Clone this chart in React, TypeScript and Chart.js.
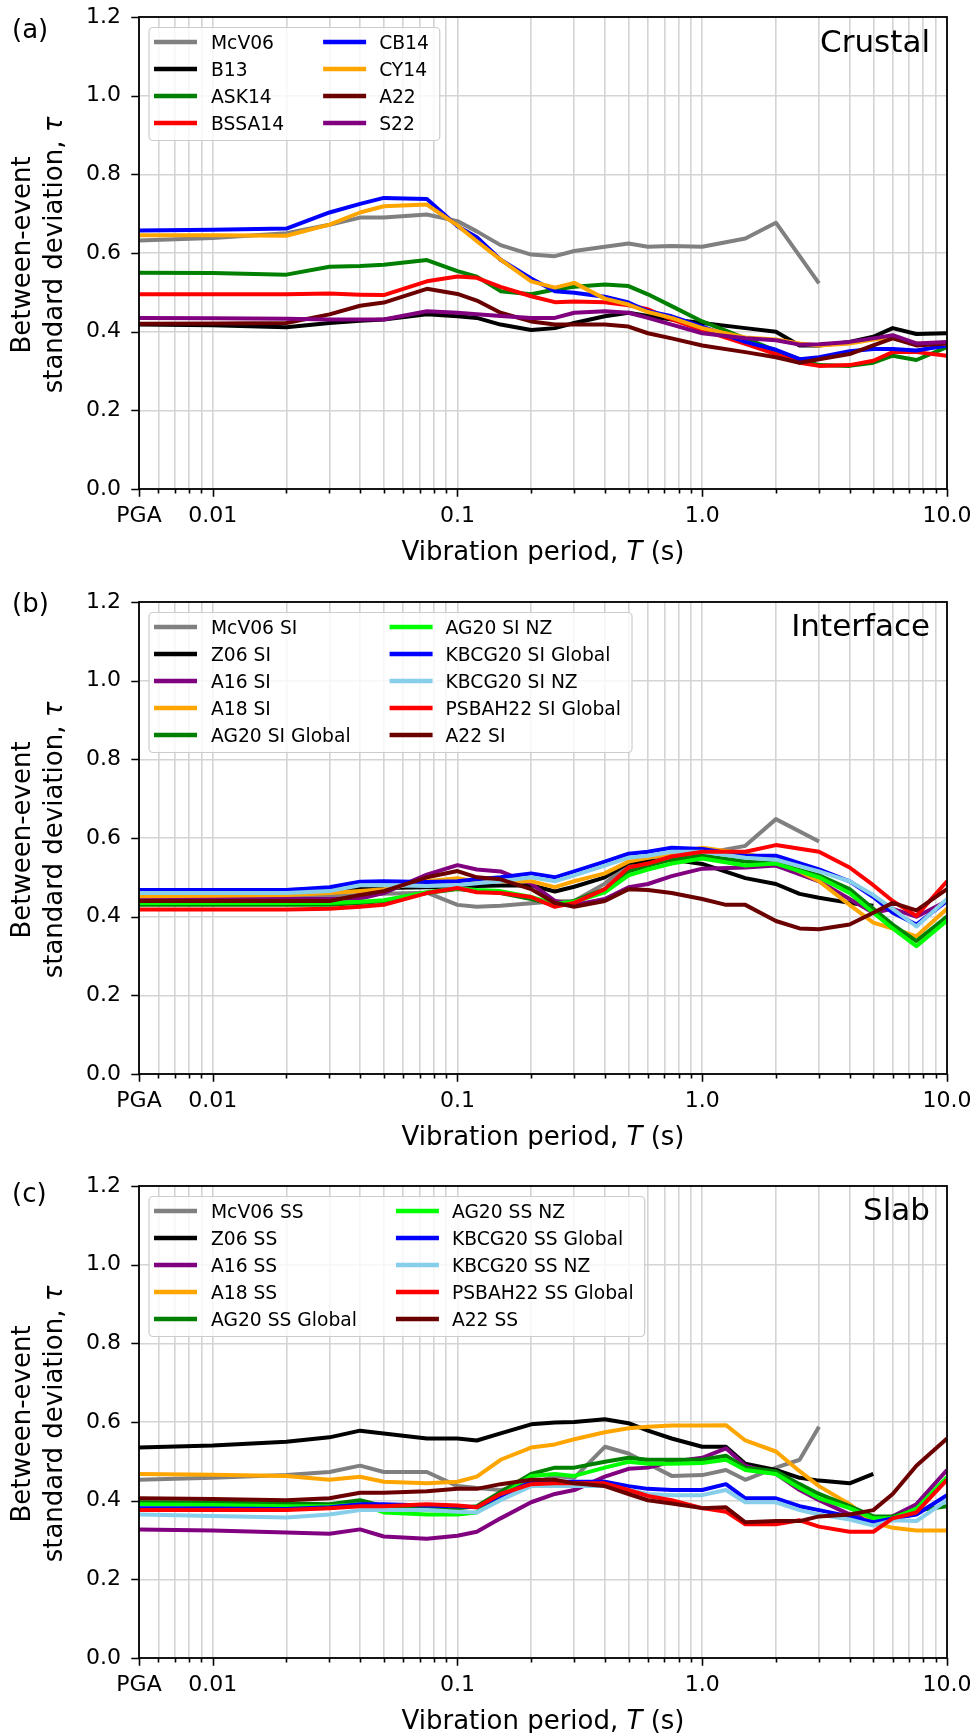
import React, { useEffect, useRef } from "react";
import { Chart, registerables } from "chart.js";

Chart.register(...registerables);

const FONT = "'DejaVu Sans', sans-serif";

// ---------------- data ----------------
const PERIODS = [0.005, 0.01, 0.02, 0.03, 0.04, 0.05, 0.075, 0.1, 0.12, 0.15, 0.2, 0.25, 0.3, 0.4, 0.5, 0.6, 0.75, 1.0, 1.25, 1.5, 2.0, 2.5, 3.0, 4.0, 5.0, 6.0, 7.5, 10.0];

const X_TICK_VALUES = [0.005, 0.006, 0.007, 0.008, 0.009, 0.01, 0.02, 0.03, 0.04, 0.05, 0.06, 0.07, 0.08, 0.09, 0.1, 0.2, 0.3, 0.4, 0.5, 0.6, 0.7, 0.8, 0.9, 1, 2, 3, 4, 5, 6, 7, 8, 9, 10];
const X_TICK_LABELS = ["PGA", "", "", "", "", "0.01", "", "", "", "", "", "", "", "", "0.1", "", "", "", "", "", "", "", "", "1.0", "", "", "", "", "", "", "", "", "10.0"];
const Y_TICK_VALUES = [0, 0.2, 0.4, 0.6, 0.8, 1.0, 1.2];

// Panel (a) Crustal
const CR_McV06 = [0.632, 0.638, 0.650, 0.672, 0.690, 0.690, 0.698, 0.681, 0.655, 0.620, 0.596, 0.592, 0.605, 0.616, 0.624, 0.616, 0.618, 0.616, null, 0.637, 0.677, null, 0.523, null, null, null, null, null];
const CR_B13 = [0.418, 0.416, 0.411, 0.422, 0.428, 0.431, 0.444, 0.439, 0.435, 0.418, 0.404, 0.409, 0.422, 0.439, 0.448, 0.440, 0.431, 0.422, null, 0.409, 0.400, 0.365, 0.365, 0.374, 0.387, 0.409, 0.394, 0.396];
const CR_ASK14 = [0.550, 0.549, 0.545, 0.565, 0.567, 0.570, 0.582, 0.554, 0.540, 0.503, 0.495, 0.507, 0.514, 0.520, 0.516, 0.495, 0.465, 0.426, null, 0.383, 0.352, 0.330, 0.315, 0.313, 0.321, 0.339, 0.328, 0.361];
const CR_BSSA14 = [0.495, 0.495, 0.495, 0.497, 0.494, 0.493, 0.528, 0.540, 0.537, 0.514, 0.490, 0.475, 0.477, 0.475, 0.467, 0.457, 0.431, 0.404, null, 0.369, 0.343, 0.321, 0.313, 0.315, 0.326, 0.348, 0.348, 0.339];
const CR_CB14 = [0.657, 0.659, 0.662, 0.703, 0.725, 0.740, 0.737, 0.668, 0.640, 0.583, 0.535, 0.503, 0.499, 0.489, 0.474, 0.452, 0.439, 0.413, null, 0.374, 0.354, 0.330, 0.335, 0.350, 0.356, 0.356, 0.352, 0.365];
const CR_CY14 = [0.645, 0.645, 0.644, 0.672, 0.703, 0.719, 0.723, 0.670, 0.630, 0.583, 0.528, 0.512, 0.524, 0.484, 0.469, 0.450, 0.435, 0.409, null, 0.385, 0.380, 0.370, 0.365, 0.370, 0.380, 0.385, 0.370, 0.370];
const CR_A22 = [0.420, 0.421, 0.422, 0.444, 0.466, 0.474, 0.509, 0.496, 0.479, 0.448, 0.426, 0.418, 0.418, 0.418, 0.413, 0.396, 0.383, 0.365, null, 0.348, 0.335, 0.321, 0.330, 0.343, 0.365, 0.383, 0.365, 0.370];
const CR_S22 = [0.435, 0.434, 0.433, 0.431, 0.431, 0.431, 0.452, 0.448, 0.444, 0.440, 0.435, 0.435, 0.448, 0.452, 0.448, 0.435, 0.418, 0.396, null, 0.383, 0.378, 0.367, 0.368, 0.374, 0.383, 0.391, 0.370, 0.374];

// Panel (b) Interface
const SI_McV06 = [0.448, 0.448, 0.449, 0.452, 0.455, 0.458, 0.461, 0.430, 0.425, 0.428, 0.434, 0.439, 0.440, 0.484, 0.534, 0.545, 0.550, 0.560, null, 0.580, 0.648, null, 0.591, null, null, null, null, null];
const SI_Z06 = [0.468, 0.468, 0.468, 0.470, 0.472, 0.473, 0.475, 0.475, 0.478, 0.479, 0.480, 0.464, 0.476, 0.500, 0.537, 0.540, 0.545, 0.534, null, 0.498, 0.483, 0.458, 0.448, 0.435, 0.428, null, null, null];
const SI_A16 = [0.445, 0.445, 0.445, 0.445, 0.446, 0.460, 0.507, 0.531, 0.520, 0.515, 0.484, 0.440, 0.430, 0.445, 0.475, 0.483, 0.503, 0.522, null, 0.525, 0.530, null, 0.490, 0.445, 0.410, 0.420, 0.400, 0.440];
const SI_A18 = [0.452, 0.453, 0.455, 0.460, 0.465, 0.470, 0.490, 0.498, 0.490, 0.490, 0.490, 0.475, 0.490, 0.510, 0.540, 0.550, 0.560, 0.575, null, 0.560, 0.545, null, 0.490, 0.430, 0.385, 0.370, 0.350, 0.420];
const SI_AG20G = [0.430, 0.430, 0.430, 0.430, 0.435, 0.440, 0.460, 0.470, 0.465, 0.460, 0.445, 0.430, 0.440, 0.470, 0.515, 0.530, 0.545, 0.555, null, 0.540, 0.535, null, 0.505, 0.470, 0.420, 0.380, 0.338, 0.400];
const SI_AG20NZ = [0.435, 0.435, 0.435, 0.435, 0.438, 0.442, 0.462, 0.472, 0.468, 0.465, 0.450, 0.432, 0.438, 0.462, 0.505, 0.520, 0.535, 0.548, null, 0.530, 0.535, null, 0.500, 0.460, 0.410, 0.370, 0.325, 0.390];
const SI_KBCGG = [0.468, 0.468, 0.468, 0.475, 0.489, 0.490, 0.488, 0.490, 0.495, 0.500, 0.510, 0.500, 0.515, 0.540, 0.560, 0.565, 0.575, 0.572, null, 0.555, 0.555, null, 0.520, 0.490, 0.450, 0.410, 0.380, 0.440];
const SI_KBCGNZ = [0.460, 0.460, 0.460, 0.465, 0.480, 0.480, 0.478, 0.480, 0.485, 0.490, 0.500, 0.490, 0.505, 0.530, 0.550, 0.555, 0.565, 0.565, null, 0.550, 0.545, null, 0.515, 0.490, 0.455, 0.420, 0.375, 0.445];
const SI_PSBAH = [0.418, 0.418, 0.418, 0.420, 0.425, 0.430, 0.460, 0.473, 0.462, 0.460, 0.450, 0.425, 0.435, 0.470, 0.525, 0.535, 0.553, 0.565, null, 0.565, 0.582, null, 0.565, 0.525, 0.480, 0.440, 0.402, 0.490];
const SI_A22 = [0.440, 0.440, 0.440, 0.440, 0.455, 0.465, 0.500, 0.516, 0.500, 0.495, 0.470, 0.435, 0.425, 0.440, 0.470, 0.468, 0.460, 0.445, 0.430, 0.430, 0.389, 0.370, 0.368, 0.380, 0.410, 0.435, 0.416, 0.470];

// Panel (c) Slab
const SS_McV06 = [0.453, 0.458, 0.465, 0.473, 0.489, 0.473, 0.473, 0.437, 0.432, 0.427, 0.442, 0.463, 0.458, 0.537, 0.520, 0.494, 0.463, 0.465, 0.478, 0.453, 0.484, 0.504, 0.588, null, null, null, null, null];
const SS_Z06 = [0.535, 0.540, 0.550, 0.561, 0.578, 0.571, 0.558, 0.558, 0.553, 0.571, 0.594, 0.599, 0.600, 0.607, 0.597, 0.578, 0.558, 0.537, 0.537, 0.494, 0.478, 0.458, 0.451, 0.444, 0.468, null, null, null];
const SS_A16 = [0.327, 0.324, 0.319, 0.316, 0.327, 0.309, 0.303, 0.311, 0.321, 0.355, 0.396, 0.417, 0.427, 0.461, 0.481, 0.484, 0.499, 0.509, 0.533, 0.489, 0.468, 0.427, 0.401, 0.365, 0.350, 0.360, 0.391, 0.478];
const SS_A18 = [0.468, 0.466, 0.463, 0.453, 0.461, 0.448, 0.444, 0.448, 0.461, 0.504, 0.535, 0.543, 0.556, 0.574, 0.584, 0.588, 0.591, 0.591, 0.592, 0.553, 0.525, 0.475, 0.437, 0.391, 0.345, 0.331, 0.324, 0.324];
const SS_AG20G = [0.396, 0.395, 0.393, 0.391, 0.401, 0.386, 0.383, 0.381, 0.386, 0.422, 0.468, 0.484, 0.484, 0.499, 0.509, 0.504, 0.504, 0.504, 0.514, 0.484, 0.475, 0.442, 0.417, 0.386, 0.360, 0.360, 0.375, 0.386];
const SS_AG20NZ = [0.391, 0.389, 0.386, 0.386, 0.391, 0.370, 0.365, 0.365, 0.370, 0.412, 0.463, 0.468, 0.463, 0.484, 0.499, 0.494, 0.494, 0.496, 0.504, 0.478, 0.468, 0.432, 0.406, 0.381, 0.355, 0.355, 0.380, 0.460];
const SS_KBCGG = [0.381, 0.380, 0.379, 0.383, 0.391, 0.391, 0.388, 0.386, 0.383, 0.412, 0.448, 0.448, 0.448, 0.448, 0.437, 0.430, 0.427, 0.427, 0.442, 0.406, 0.406, 0.386, 0.376, 0.360, 0.345, 0.355, 0.365, 0.414];
const SS_KBCGNZ = [0.365, 0.361, 0.357, 0.365, 0.376, 0.376, 0.376, 0.372, 0.370, 0.401, 0.437, 0.437, 0.437, 0.437, 0.427, 0.417, 0.414, 0.414, 0.427, 0.396, 0.396, 0.376, 0.365, 0.352, 0.337, 0.350, 0.348, 0.401];
const SS_PSBAH = [0.376, 0.376, 0.376, 0.381, 0.386, 0.386, 0.391, 0.388, 0.383, 0.417, 0.442, 0.444, 0.444, 0.444, 0.427, 0.412, 0.401, 0.381, 0.372, 0.340, 0.340, 0.350, 0.334, 0.321, 0.321, 0.355, 0.370, 0.453];
const SS_A22 = [0.406, 0.404, 0.401, 0.406, 0.420, 0.420, 0.424, 0.430, 0.430, 0.442, 0.453, 0.453, 0.444, 0.437, 0.417, 0.401, 0.393, 0.381, 0.383, 0.345, 0.348, 0.348, 0.360, 0.365, 0.376, 0.417, 0.489, 0.558];

const GRAY = "#808080", BLACK = "#000000", GREEN = "#008000", RED = "#ff0000", BLUE = "#0000ff",
  ORANGE = "#ffa500", MAROON = "#6b0000", PURPLE = "#800080", LIME = "#00ff00", SKY = "#87ceeb";

type Series = { label: string; color: string; values: (number | null)[] };
type Panel = { letter: string; region: string; letterDy: number; regionDy: number; top: number; series: Series[] };

const PANELS: Panel[] = [
  {
    letter: "(a)", region: "Crustal", letterDy: 21, regionDy: 35, top: 0,
    series: [
      { label: "McV06", color: GRAY, values: CR_McV06 },
      { label: "B13", color: BLACK, values: CR_B13 },
      { label: "ASK14", color: GREEN, values: CR_ASK14 },
      { label: "BSSA14", color: RED, values: CR_BSSA14 },
      { label: "CB14", color: BLUE, values: CR_CB14 },
      { label: "CY14", color: ORANGE, values: CR_CY14 },
      { label: "A22", color: MAROON, values: CR_A22 },
      { label: "S22", color: PURPLE, values: CR_S22 },
    ],
  },
  {
    letter: "(b)", region: "Interface", letterDy: 10, regionDy: 34, top: 585,
    series: [
      { label: "McV06 SI", color: GRAY, values: SI_McV06 },
      { label: "Z06 SI", color: BLACK, values: SI_Z06 },
      { label: "A16 SI", color: PURPLE, values: SI_A16 },
      { label: "A18 SI", color: ORANGE, values: SI_A18 },
      { label: "AG20 SI Global", color: GREEN, values: SI_AG20G },
      { label: "AG20 SI NZ", color: LIME, values: SI_AG20NZ },
      { label: "KBCG20 SI Global", color: BLUE, values: SI_KBCGG },
      { label: "KBCG20 SI NZ", color: SKY, values: SI_KBCGNZ },
      { label: "PSBAH22 SI Global", color: RED, values: SI_PSBAH },
      { label: "A22 SI", color: MAROON, values: SI_A22 },
    ],
  },
  {
    letter: "(c)", region: "Slab", letterDy: 16, regionDy: 34, top: 1169,
    series: [
      { label: "McV06 SS", color: GRAY, values: SS_McV06 },
      { label: "Z06 SS", color: BLACK, values: SS_Z06 },
      { label: "A16 SS", color: PURPLE, values: SS_A16 },
      { label: "A18 SS", color: ORANGE, values: SS_A18 },
      { label: "AG20 SS Global", color: GREEN, values: SS_AG20G },
      { label: "AG20 SS NZ", color: LIME, values: SS_AG20NZ },
      { label: "KBCG20 SS Global", color: BLUE, values: SS_KBCGG },
      { label: "KBCG20 SS NZ", color: SKY, values: SS_KBCGNZ },
      { label: "PSBAH22 SS Global", color: RED, values: SS_PSBAH },
      { label: "A22 SS", color: MAROON, values: SS_A22 },
    ],
  },
];

const CANVAS_W = 976;
const CANVAS_H = 564;
const PAD_TOP = 17;
const PLOT_H = 472;
const Y_AXIS_W = 139;
const PAD_RIGHT = 29;

function drawMixed(ctx: CanvasRenderingContext2D, parts: { t: string; italic?: boolean }[], size: number, cx: number, y: number) {
  const fonts = parts.map((p) => `${p.italic ? "oblique " : ""}${size}px ${FONT}`);
  const widths = parts.map((p, i) => { ctx.font = fonts[i]; return ctx.measureText(p.t).width; });
  const total = widths.reduce((s, w) => s + w, 0);
  let x = cx - total / 2;
  ctx.textAlign = "left";
  ctx.textBaseline = "alphabetic";
  parts.forEach((p, i) => { ctx.font = fonts[i]; ctx.fillText(p.t, x, y); x += widths[i]; });
}

function decoPlugin(panel: Panel) {
  return {
    id: "deco",
    afterDraw(chart: any) {
      const ctx: CanvasRenderingContext2D = chart.ctx;
      const a = chart.chartArea;
      const xs = chart.scales.x;
      const ys = chart.scales.y;
      ctx.save();
      ctx.fillStyle = "#000";
      ctx.strokeStyle = "#000";
      // tick marks
      ctx.lineWidth = 1.6;
      ctx.beginPath();
      X_TICK_VALUES.forEach((v, i) => {
        const px = Math.round(xs.getPixelForValue(v)) + 0.5;
        const len = X_TICK_LABELS[i] ? 7.7 : 4.4;
        ctx.moveTo(px, a.bottom);
        ctx.lineTo(px, a.bottom + len);
      });
      Y_TICK_VALUES.forEach((v) => {
        const py = Math.round(ys.getPixelForValue(v)) + 0.5;
        ctx.moveTo(a.left - 7.7, py);
        ctx.lineTo(a.left, py);
      });
      ctx.stroke();
      // frame
      ctx.lineWidth = 1.8;
      ctx.strokeRect(a.left, a.top, a.right - a.left, a.bottom - a.top);

      // legend
      const n = panel.series.length;
      const nrows = Math.ceil(n / 2);
      const col1 = panel.series.slice(0, nrows);
      const col2 = panel.series.slice(nrows);
      ctx.font = `18.7px ${FONT}`;
      const w1 = Math.max(...col1.map((s) => ctx.measureText(s.label).width));
      const w2 = Math.max(...col2.map((s) => ctx.measureText(s.label).width));
      const bx = a.left + 10;
      const by = a.top + 10.5;
      const t1x = bx + 62;
      const h2x = t1x + w1 + 39;
      const t2x = h2x + 56;
      const bw = t2x + w2 + 11 - bx;
      const bh = 14.5 + (nrows - 1) * 27 + 17.5;
      ctx.beginPath();
      ctx.roundRect(bx, by, bw, bh, 4);
      ctx.fillStyle = "rgba(255,255,255,0.8)";
      ctx.fill();
      ctx.strokeStyle = "#cccccc";
      ctx.lineWidth = 1.2;
      ctx.stroke();
      const drawItem = (s: Series, hx: number, tx: number, row: number) => {
        const ry = by + 14.5 + row * 27;
        ctx.strokeStyle = s.color;
        ctx.lineWidth = 4.5;
        ctx.lineCap = "butt";
        ctx.beginPath();
        ctx.moveTo(hx, ry);
        ctx.lineTo(hx + 43, ry);
        ctx.stroke();
        ctx.fillStyle = "#000";
        ctx.textAlign = "left";
        ctx.textBaseline = "alphabetic";
        ctx.fillText(s.label, tx, ry + 6.8);
      };
      col1.forEach((s, i) => drawItem(s, bx + 5, t1x, i));
      col2.forEach((s, i) => drawItem(s, h2x, t2x, i));

      // region title
      ctx.fillStyle = "#000";
      ctx.font = `31px ${FONT}`;
      ctx.textAlign = "right";
      ctx.textBaseline = "alphabetic";
      ctx.fillText(panel.region, a.right - 17, a.top + panel.regionDy);

      // panel letter
      ctx.font = `26px ${FONT}`;
      ctx.textAlign = "left";
      ctx.fillText(panel.letter, 12, a.top + panel.letterDy);

      // x title
      drawMixed(ctx, [{ t: "Vibration period, " }, { t: "T", italic: true }, { t: " (s)" }], 26, (a.left + a.right) / 2, a.bottom + 71);

      // y title
      const cy = (a.top + a.bottom) / 2 + 2;
      ctx.save();
      ctx.translate(0, cy);
      ctx.rotate(-Math.PI / 2);
      drawMixed(ctx, [{ t: "Between-event" }], 26, 0, 30);
      drawMixed(ctx, [{ t: "standard deviation, " }, { t: "τ", italic: true }], 26, 0, 62);
      ctx.restore();

      ctx.restore();
    },
  };
}

function PanelChart({ panel }: { panel: Panel }) {
  const ref = useRef<HTMLCanvasElement | null>(null);
  useEffect(() => {
    if (!ref.current) return;
    const n = panel.series.length;
    const chart = new Chart(ref.current, {
      type: "line",
      data: {
        datasets: panel.series.map((s, i) => ({
          label: s.label,
          data: PERIODS.map((p, j) => ({ x: p, y: s.values[j] })),
          borderColor: s.color,
          backgroundColor: s.color,
          borderWidth: 4,
          pointRadius: 0,
          pointHoverRadius: 0,
          tension: 0,
          spanGaps: true,
          fill: false,
          borderJoinStyle: "round",
          borderCapStyle: "butt",
          order: n - 1 - i,
        })),
      },
      options: {
        animation: false,
        responsive: false,
        devicePixelRatio: 1,
        events: [],
        layout: { padding: { top: PAD_TOP, right: PAD_RIGHT, left: 0, bottom: 0 } },
        plugins: { legend: { display: false }, tooltip: { enabled: false }, title: { display: false } },
        scales: {
          x: {
            type: "logarithmic",
            min: 0.005,
            max: 10,
            border: { display: false },
            grid: { color: "#d4d4d4", lineWidth: 1.6, drawTicks: true, tickLength: 14, tickColor: "rgba(0,0,0,0)" },
            afterBuildTicks: (scale: any) => {
              scale.ticks = X_TICK_VALUES.map((v) => ({ value: v }));
            },
            afterFit: (scale: any) => {
              scale.height = CANVAS_H - PAD_TOP - PLOT_H;
            },
            ticks: {
              autoSkip: false,
              maxRotation: 0,
              minRotation: 0,
              padding: 0,
              color: "#000",
              font: { family: FONT, size: 22 },
              callback: (_v: any, index: number) => X_TICK_LABELS[index],
            },
          },
          y: {
            type: "linear",
            min: 0,
            max: 1.2,
            border: { display: false },
            grid: { color: "#d4d4d4", lineWidth: 1.6, drawTicks: true, tickLength: 18, tickColor: "rgba(0,0,0,0)" },
            afterBuildTicks: (scale: any) => {
              scale.ticks = Y_TICK_VALUES.map((v) => ({ value: v }));
            },
            afterFit: (scale: any) => {
              scale.width = Y_AXIS_W;
            },
            ticks: {
              padding: 0,
              color: "#000",
              font: { family: FONT, size: 22 },
              callback: (v: any) => Number(v).toFixed(1),
            },
          },
        },
      },
      plugins: [decoPlugin(panel)],
    } as any);
    return () => chart.destroy();
  }, [panel]);
  return (
    <canvas
      ref={ref}
      width={CANVAS_W}
      height={CANVAS_H}
      style={{ position: "absolute", left: 0, top: panel.top, width: CANVAS_W, height: CANVAS_H }}
    />
  );
}

export default function App() {
  return (
    <div style={{ position: "absolute", left: 0, top: 0, width: 976, height: 1733, background: "#fff", fontFamily: FONT }}>
      {PANELS.map((p) => (
        <PanelChart key={p.letter} panel={p} />
      ))}
    </div>
  );
}
